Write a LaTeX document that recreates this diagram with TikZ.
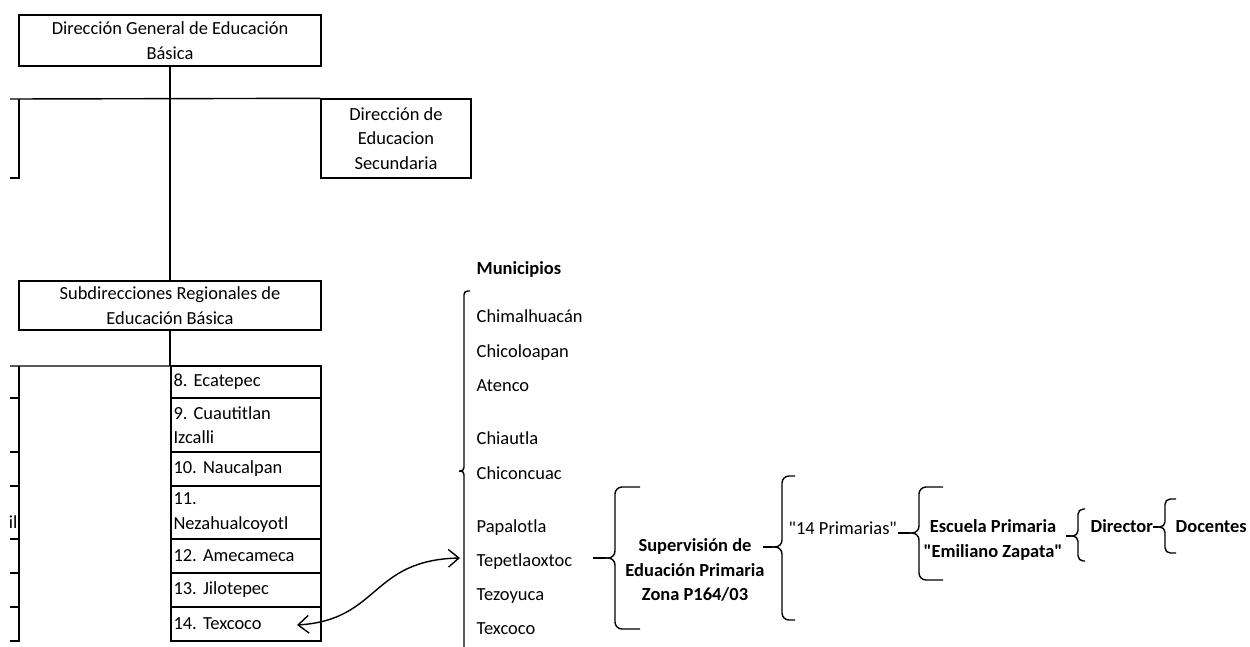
\documentclass[tikz,border=0pt]{standalone}
\usepackage{fontspec}
\setmainfont{Carlito}
\usetikzlibrary{positioning,arrows.meta}
\tikzset{
  box/.style={draw,align=center,inner sep=0pt},
  cell/.style={draw,minimum width=3cm,text width=2.9cm,inner xsep=.05cm,inner ysep=0pt,outer sep=0pt,align=left},
  lbl/.style={inner sep=0pt},
  brc/.style={rounded corners=4pt},
}
\frenchspacing
\begin{document}
\begin{tikzpicture}[x=.02cm,y=-.02cm,line width=.8pt,font=\fontsize{10.5}{14}\selectfont,>={Straight Barb[length=6pt,width=10pt]}]
  \useasboundingbox (0,0) rectangle (1250,646);
  % boxes of the left chart
  \node[box,minimum width=6.04cm,minimum height=1.02cm] (dgeb) at (170,40.5) {Dirección General de Educación\\Básica};
  \node[box,minimum width=3cm,minimum height=1.58cm] (des) at (396,138.5) {Dirección de\\Educacion\\Secundaria};
  \node[box,minimum width=6.04cm,minimum height=.98cm] (srb) at (170,305.5) {Subdirecciones Regionales de\\Educación Básica};
  \node[cell,minimum height=.64cm] (r8) at (246,382) {8. Ecatepec};
  \node[cell,minimum height=1.08cm,below=0pt of r8] (r9) {9. Cuautitlan\\Izcalli};
  \node[cell,minimum height=.68cm,below=0pt of r9] (r10) {10. Naucalpan};
  \node[cell,minimum height=1.06cm,below=0pt of r10] (r11) {11.\\Nezahualcoyotl};
  \node[cell,minimum height=.68cm,below=0pt of r11] (r12) {12. Amecameca};
  \node[cell,minimum height=.68cm,below=0pt of r12] (r13) {13. Jilotepec};
  \node[cell,minimum height=.68cm,below=0pt of r13] (r14) {14. Texcoco};
  \node[lbl,anchor=base east] (cut) at (18,528) {il};
  % lines of the left chart
  \coordinate (h1) at (10,99);
  \coordinate (v1) at (19,99);
  \coordinate (v1e) at (10,178);
  \coordinate (h2) at (10,366);
  \coordinate (v2) at (19,366);
  \coordinate (v2e) at (10,641);
  \draw (dgeb.south) -- (srb.north);
  \draw (h1) -- (des.north west);
  \draw (v1) -- (19,178) -- (v1e);
  \draw (srb.south) -- (srb.south |- r8.north);
  \draw (h2) -- (r8.north west);
  \draw (v2) -- (19,641) -- (v2e);
  \foreach \y in {398,452,486,539,573,607}
    \draw (10,\y) -- (19,\y);
  % municipios
  \node[lbl,anchor=base west] (mun) at (476,274) {\textbf{Municipios}};
  \foreach \n/\y/\t in {1/322/Chimalhuacán,2/357/Chicoloapan,3/391/Atenco,4/444/Chiautla,5/479/Chiconcuac,6/532/Papalotla,7/566/Tepetlaoxtoc,8/600/Tezoyuca,9/634/Texcoco}
    \node[lbl,anchor=base west] (m\n) at (476,\y) {\t};
  \draw[brc,rounded corners=2pt] (459,471) -- (464,471) -- (464,291) -- (470,291);
  \draw[brc,rounded corners=2pt] (459,471) -- (464,471) -- (464,652);
  \coordinate (a14) at (297,625);
  \coordinate (atep) at (460,558);
  \draw[<->] (a14) .. controls (380,620) and (370,560) .. (atep);
  % right hand side
  \node[lbl,align=center,font=\fontsize{10.5}{14}\selectfont\bfseries] (sup) at (695,570) {Supervisión de\\Eduación Primaria\\Zona P164/03};
  \node[lbl,anchor=base west] (prim) at (788,534) {\textquotedbl 14 Primarias\textquotedbl};
  \node[lbl,align=center,font=\fontsize{10.5}{14}\selectfont\bfseries] (esc) at (993,540) {Escuela Primaria\\\textquotedbl Emiliano Zapata\textquotedbl};
  \node[lbl,anchor=base west] (dir) at (1090,532) {\textbf{Director}};
  \node[lbl,anchor=base west] (doc) at (1175,532) {\textbf{Docentes}};
  % braces
  \coordinate (tsup) at (593,558);
  \coordinate (bsup) at (605,558);
  \draw (tsup) -- (bsup);
  \draw[brc] (bsup) -- (615,558) -- (615,487) -- (640,487);
  \draw[brc] (bsup) -- (615,558) -- (615,629) -- (640,629);
  \coordinate (tprim) at (763,547);
  \coordinate (bprim) at (772,547);
  \draw (tprim) -- (bprim);
  \draw[brc] (bprim) -- (782,547) -- (782,476) -- (795,476);
  \draw[brc] (bprim) -- (782,547) -- (782,620) -- (795,620);
  \coordinate (tesc) at (898,533);
  \coordinate (besc) at (909,533);
  \draw (tesc) -- (besc);
  \draw[brc] (besc) -- (919,533) -- (919,487) -- (943,487);
  \draw[brc] (besc) -- (919,533) -- (919,580) -- (943,580);
  \coordinate (tdir) at (1066,536);
  \coordinate (bdir) at (1071,536);
  \draw (tdir) -- (bdir);
  \draw[brc,rounded corners=3pt] (bdir) -- (1078,536) -- (1078,509) -- (1085,509);
  \draw[brc,rounded corners=3pt] (bdir) -- (1078,536) -- (1078,561) -- (1085,561);
  \coordinate (tdoc) at (1153,527);
  \coordinate (bdoc) at (1158,527);
  \draw (tdoc) -- (bdoc);
  \draw[brc,rounded corners=3pt] (bdoc) -- (1165,527) -- (1165,499) -- (1176,499);
  \draw[brc,rounded corners=3pt] (bdoc) -- (1165,527) -- (1165,553) -- (1176,553);
\end{tikzpicture}
\end{document}
